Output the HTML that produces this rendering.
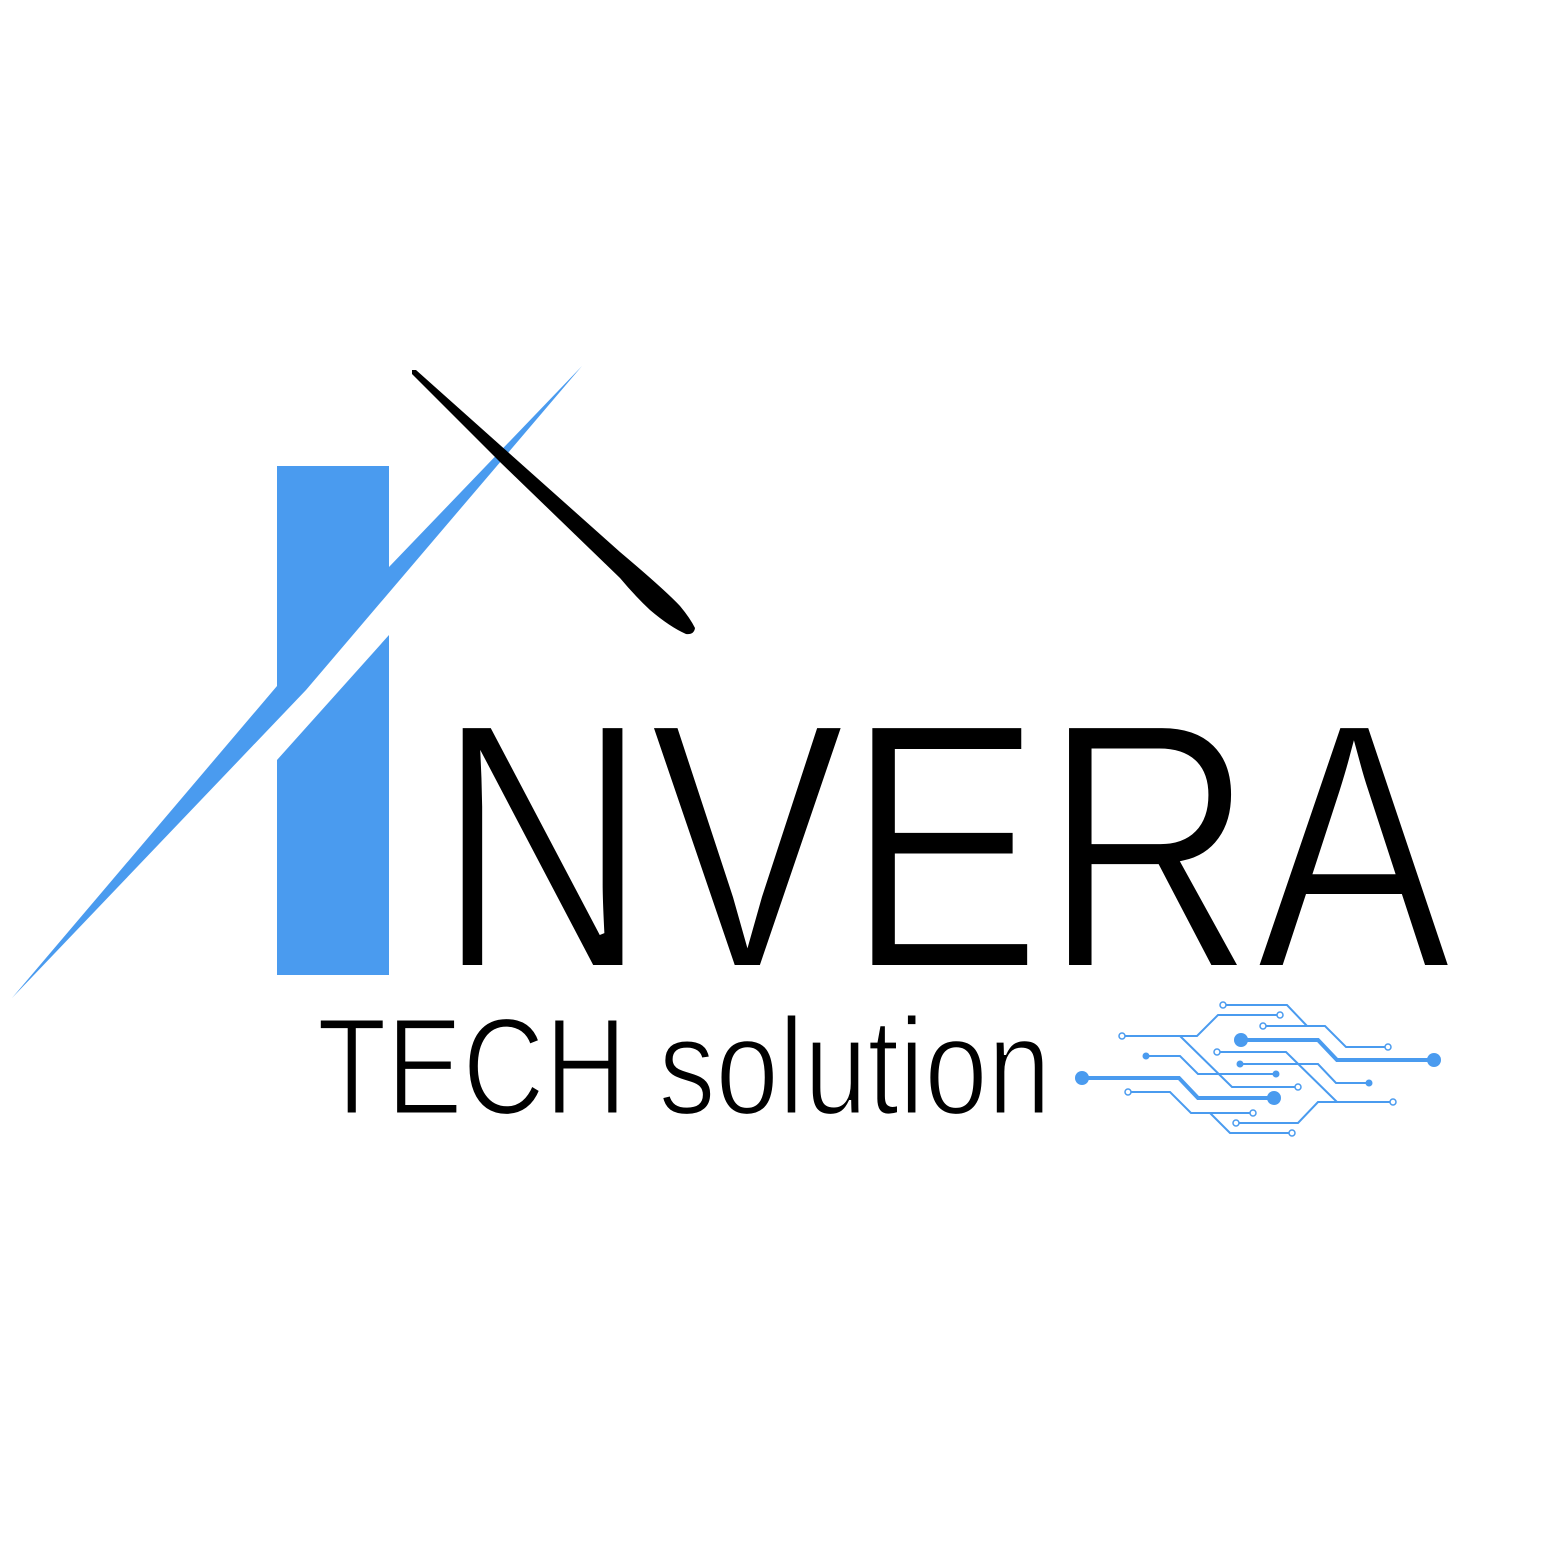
<!DOCTYPE html>
<html><head><meta charset="utf-8"><style>html,body{margin:0;padding:0;background:#fff}svg{display:block}</style></head>
<body>
<svg width="1563" height="1563" viewBox="0 0 1563 1563" xmlns="http://www.w3.org/2000/svg">
<rect width="1563" height="1563" fill="#fff"/>
<g fill="#4a9bef">
<polygon points="277,466 389,466 389,567 582,366 306,690 12,998 277,686"/>
<polygon points="389,635 389,975 277,975 277,760"/>
</g>
<path fill="#000" d="M412,370 L416,370 L500,445 L620,552 Q665,590 680,606 Q690,618 695,628 Q694,635 686,634 Q670,627 650,610 Q635,596 620,578 L500,462 L412,374 Z"/>
<text x="436" y="968" font-family="Liberation Sans, sans-serif" font-size="353" textLength="1016" lengthAdjust="spacingAndGlyphs" fill="#000" stroke="#fff" stroke-width="6">NVERA</text>
<text x="317" y="1114" font-family="Liberation Sans, sans-serif" font-size="138" textLength="734" lengthAdjust="spacingAndGlyphs" fill="#000" stroke="#fff" stroke-width="3">TECH solution</text>
<g stroke="#4a9bef" stroke-width="2" fill="none">
<polyline points="1223,1005 1287,1005 1307,1026"/>
<polyline points="1263,1026 1325,1026 1346,1047 1388,1047"/>
<polyline points="1280,1015 1218,1015 1197,1036 1122,1036"/>
<polyline points="1180,1036 1232,1087 1298,1087"/>
<polyline points="1146,1056 1180,1056 1198,1074 1276,1074"/>
<polyline points="1217,1052 1286,1052 1337,1102"/>
<polyline points="1393,1102 1318,1102 1298,1123 1236,1123"/>
<polyline points="1240,1064 1318,1064 1336,1083 1369,1083"/>
<polyline points="1128,1092 1170,1092 1191,1113 1253,1113"/>
<polyline points="1210,1113 1230,1133 1292,1133"/>
<polyline stroke-width="4" points="1241,1040 1318,1040 1337,1060 1434,1060"/>
<polyline stroke-width="4" points="1082,1078 1179,1078 1198,1098 1274,1098"/>
</g>
<g fill="#fff" stroke="#4a9bef" stroke-width="1.5">
<circle cx="1223" cy="1005" r="3"/><circle cx="1263" cy="1026" r="3"/><circle cx="1388" cy="1047" r="3"/>
<circle cx="1280" cy="1015" r="3"/><circle cx="1122" cy="1036" r="3"/><circle cx="1298" cy="1087" r="3"/>
<circle cx="1217" cy="1052" r="3"/><circle cx="1393" cy="1102" r="3"/><circle cx="1236" cy="1123" r="3"/>
<circle cx="1128" cy="1092" r="3"/><circle cx="1253" cy="1113" r="3"/><circle cx="1292" cy="1133" r="3"/>
</g>
<g fill="#4a9bef">
<circle cx="1146" cy="1056" r="3.5"/><circle cx="1276" cy="1074" r="3.5"/><circle cx="1240" cy="1064" r="3.5"/><circle cx="1369" cy="1083" r="3.5"/>
<circle cx="1241" cy="1040" r="7"/><circle cx="1434" cy="1060" r="7"/><circle cx="1082" cy="1078" r="7"/><circle cx="1274" cy="1098" r="7"/>
</g>
</svg>
</body></html>
